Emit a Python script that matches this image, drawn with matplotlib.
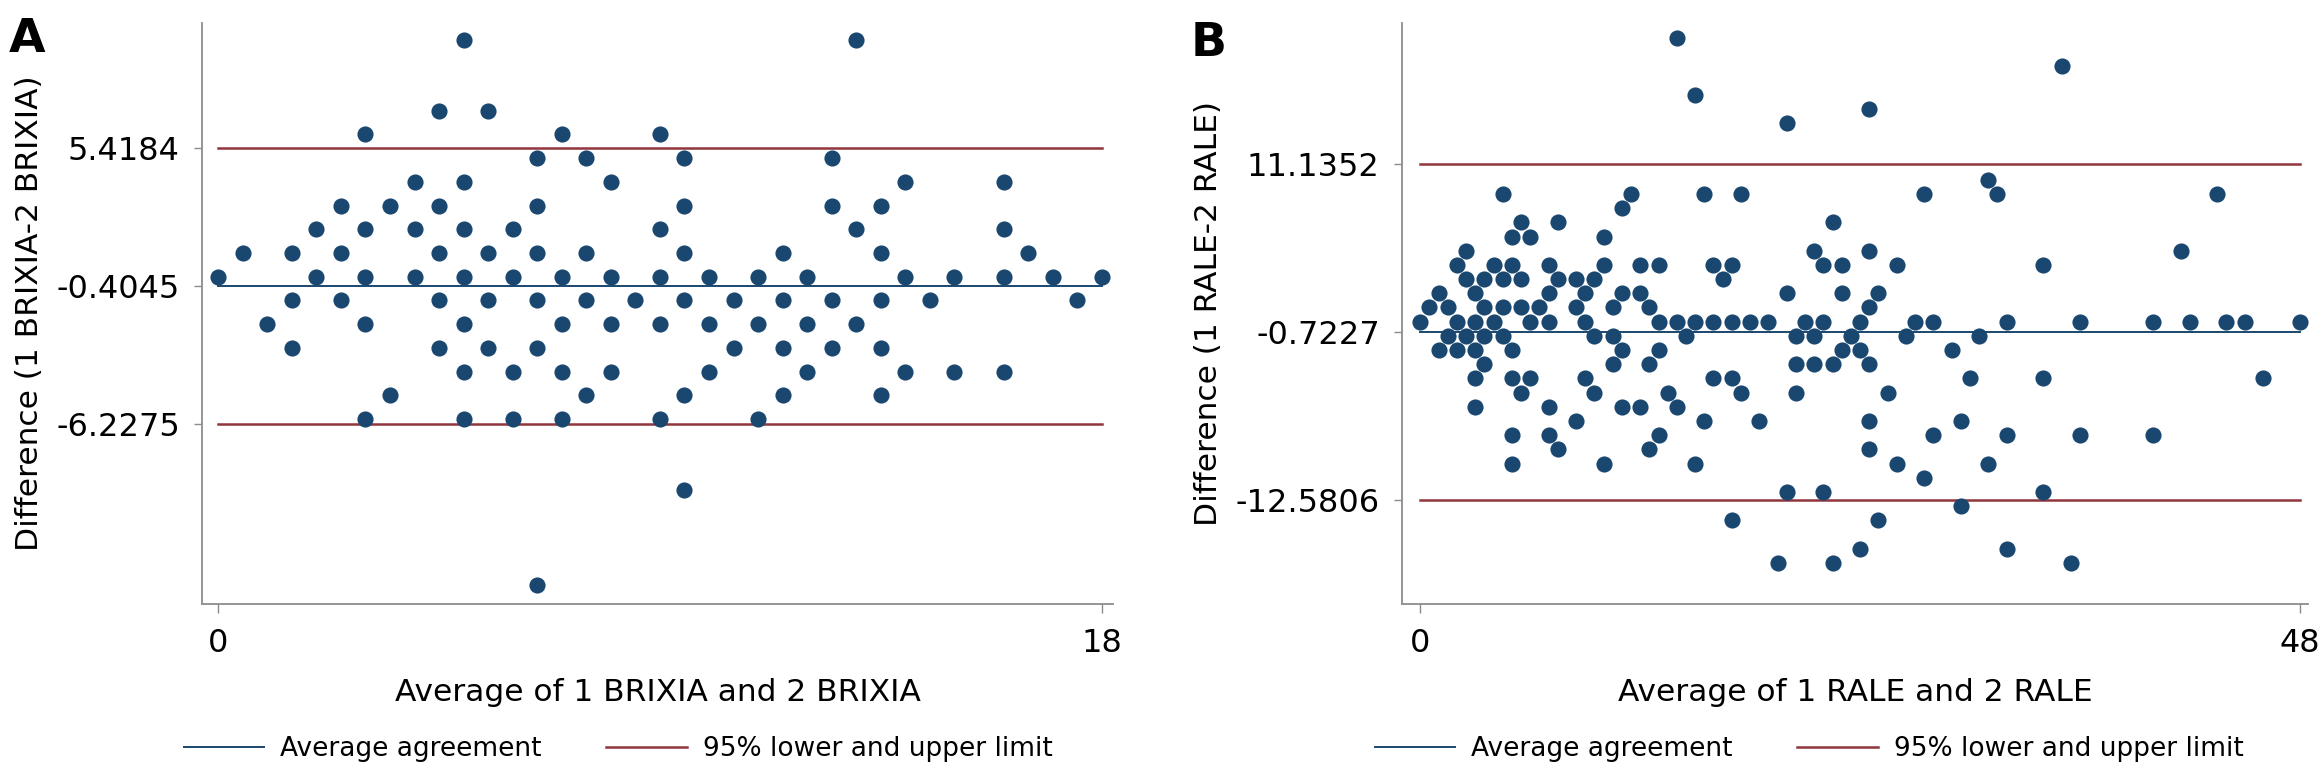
import matplotlib
matplotlib.use("Agg")
import matplotlib.pyplot as plt
from matplotlib.lines import Line2D

# Panel A - BRIXIA (average of the two readings, difference)
a_avg = ([0, 0.5, 1] + [1.5]*3 + [2]*2 + [2.5]*3 + [3]*5 + [3.5]*2 + [4]*3
         + [4.5]*5 + [5]*7 + [5.5]*4 + [6]*4 + [6.5]*6 + [7]*5 + [7.5]*4
         + [8]*4 + [8.5] + [9]*5 + [9.5]*6 + [10]*3 + [10.5]*2 + [11]*3
         + [11.5]*4 + [12]*3 + [12.5]*4 + [13]*3 + [13.5]*5 + [14]*3
         + [14.5] + [15]*2 + [16]*4 + [16.5] + [17] + [17.5] + [18])
a_diff = ([0, 1, -2] + [1, -1, -3] + [2, 0] + [3, 1, -1] + [6, 2, 0, -2, -6]
          + [3, -5] + [4, 2, 0] + [7, 3, 1, -1, -3] + [10, 4, 2, 0, -2, -4, -6]
          + [7, 1, -1, -3] + [2, 0, -4, -6] + [5, 3, 1, -1, -3, -13]
          + [6, 0, -2, -4, -6] + [5, 1, -1, -5] + [4, 0, -2, -4] + [-1]
          + [6, 2, 0, -2, -6] + [5, 3, 1, -1, -5, -9] + [0, -2, -4] + [-1, -3]
          + [0, -2, -6] + [1, -1, -3, -5] + [0, -2, -4] + [5, 3, -1, -3]
          + [10, 2, -2] + [3, 1, -1, -3, -5] + [4, 0, -4] + [-1] + [0, -4]
          + [4, 2, 0, -4] + [1] + [0] + [-1] + [0])
a_mean, a_lo, a_hi = -0.4045, -6.2275, 5.4184
a_ticklabels = ["5.4184", "-0.4045", "-6.2275"]
a_xmax = 18

# Panel B - RALE
b_avg = ([14, 35, 15, 24.5, 20, 31]
         + [4.5, 11.5, 15.5, 17.5, 27.5, 31.5, 43.5]
         + [11]
         + [5.5, 7.5, 22.5]
         + [5, 6, 10]
         + [2.5, 21.5, 24.5, 41.5]
         + [2, 4, 5, 7, 10, 12, 13, 16, 17, 22, 23, 26, 34]
         + [2.5, 3.5, 4.5, 5.5, 7.5, 8.5, 9.5, 16.5]
         + [1, 3, 7, 9, 11, 12, 20, 23, 25]
         + [0.5, 1.5, 3.5, 4.5, 5.5, 6.5, 8.5, 10.5, 12.5, 24.5]
         + [0, 2, 3, 4, 6, 7, 9, 13, 14, 15, 16, 17, 18, 19, 21, 22, 24, 27,
            28, 32, 36, 40, 42, 44, 45, 48]
         + [1.5, 2.5, 3.5, 4.5, 9.5, 10.5, 14.5, 20.5, 21.5, 23.5, 26.5, 30.5]
         + [1, 2, 3, 5, 11, 13, 23, 24, 29]
         + [3.5, 10.5, 12.5, 20.5, 21.5, 22.5, 24.5]
         + [3, 5, 6, 9, 16, 17, 30, 34, 46]
         + [5.5, 9.5, 13.5, 17.5, 20.5, 25.5]
         + [3, 7, 11, 12, 14]
         + [8.5, 15.5, 18.5, 24.5, 29.5]
         + [5, 7, 13, 28, 32, 36, 40]
         + [7.5, 12.5, 24.5]
         + [5, 10, 15, 26, 31]
         + [27.5]
         + [20, 22, 34]
         + [29.5]
         + [17, 25]
         + [24, 32]
         + [19.5, 22.5, 35.5])
b_diff = ([20, 18, 16, 15, 14, 10] + [9]*7 + [8] + [7]*3 + [6]*3 + [5]*4
          + [4]*13 + [3]*8 + [2]*9 + [1]*10 + [0]*26 + [-1]*12 + [-2]*9
          + [-3]*7 + [-4]*9 + [-5]*6 + [-6]*5 + [-7]*5 + [-8]*7 + [-9]*3
          + [-10]*5 + [-11] + [-12]*3 + [-13] + [-14]*2 + [-16]*2 + [-17]*3)
b_mean, b_lo, b_hi = -0.7227, -12.5806, 11.1352
b_ticklabels = ["11.1352", "-0.7227", "-12.5806"]
b_xmax = 48

navy = "#1a476f"
maroon = "#90353b"
gray = "#8c8c8c"
fs_tick = 23
fs_title = 22.5
fs_leg = 19

W, H = 2320, 776
fig = plt.figure(figsize=(W/100, H/100), dpi=100)
axA = fig.add_axes([202/W, 172/H, 911/W, 581/H])
axB = fig.add_axes([1402/W, 172/H, 906/W, 581/H])


def bland_altman(ax, avg, diff, mean, lo, hi, ticklabels, xmax, xlim, ylim,
                 xlabel, ylabel, ylab_x, leg_x):
    ax.scatter(avg, diff, s=135, color=navy, linewidths=0, zorder=3)
    ax.plot([0, xmax], [mean, mean], color=navy, lw=1.4, zorder=2)
    ax.plot([0, xmax], [lo, lo], color=maroon, lw=1.8, zorder=2)
    ax.plot([0, xmax], [hi, hi], color=maroon, lw=1.8, zorder=2)
    ax.set_xlim(xlim)
    ax.set_ylim(ylim)
    ax.set_xticks([0, xmax])
    ax.set_xticklabels(["0", str(xmax)])
    ax.set_yticks([hi, mean, lo])
    ax.set_yticklabels(ticklabels)
    for s in ["top", "right"]:
        ax.spines[s].set_visible(False)
    for s in ["left", "bottom"]:
        ax.spines[s].set_color(gray)
        ax.spines[s].set_linewidth(1.3)
    ax.tick_params(axis="y", length=6, width=1, color=gray, labelsize=fs_tick, pad=10)
    ax.tick_params(axis="x", length=6.5, width=1, color=gray, labelsize=fs_tick, pad=11)
    ax.set_xlabel(xlabel, fontsize=fs_title, va="center")
    ax.xaxis.set_label_coords(0.5, -0.152)
    ax.set_ylabel(ylabel, fontsize=fs_title, va="center")
    ax.yaxis.set_label_coords(ylab_x, 0.5)
    handles = [Line2D([], [], color=navy, lw=1.4), Line2D([], [], color=maroon, lw=1.8)]
    ax.legend(handles, ["Average agreement", "95% lower and upper limit"],
              loc="center left", bbox_to_anchor=(leg_x/W, 1 - 749/H),
              bbox_transform=fig.transFigure, ncol=2, frameon=False,
              fontsize=fs_leg, handlelength=3.05, handletextpad=0.6,
              columnspacing=2.45, borderpad=0, borderaxespad=0)


bland_altman(axA, a_avg, a_diff, a_mean, a_lo, a_hi, a_ticklabels, a_xmax,
             (-0.33, 18.23), (-13.8, 10.7),
             "Average of 1 BRIXIA and 2 BRIXIA", "Difference (1 BRIXIA-2 BRIXIA)",
             -0.189, 184)
bland_altman(axB, b_avg, b_diff, b_mean, b_lo, b_hi, b_ticklabels, b_xmax,
             (-1.0, 48.45), (-19.9, 21.05),
             "Average of 1 RALE and 2 RALE", "Difference (1 RALE-2 RALE)",
             -0.2138, 1375)

fig.text(27/W, 1 - 39/H, "A", fontsize=34, fontweight="heavy", ha="center", va="center")
fig.text(1209/W, 1 - 44/H, "B", fontsize=34, fontweight="heavy", ha="center", va="center")

fig.savefig("out.png", dpi=100)
